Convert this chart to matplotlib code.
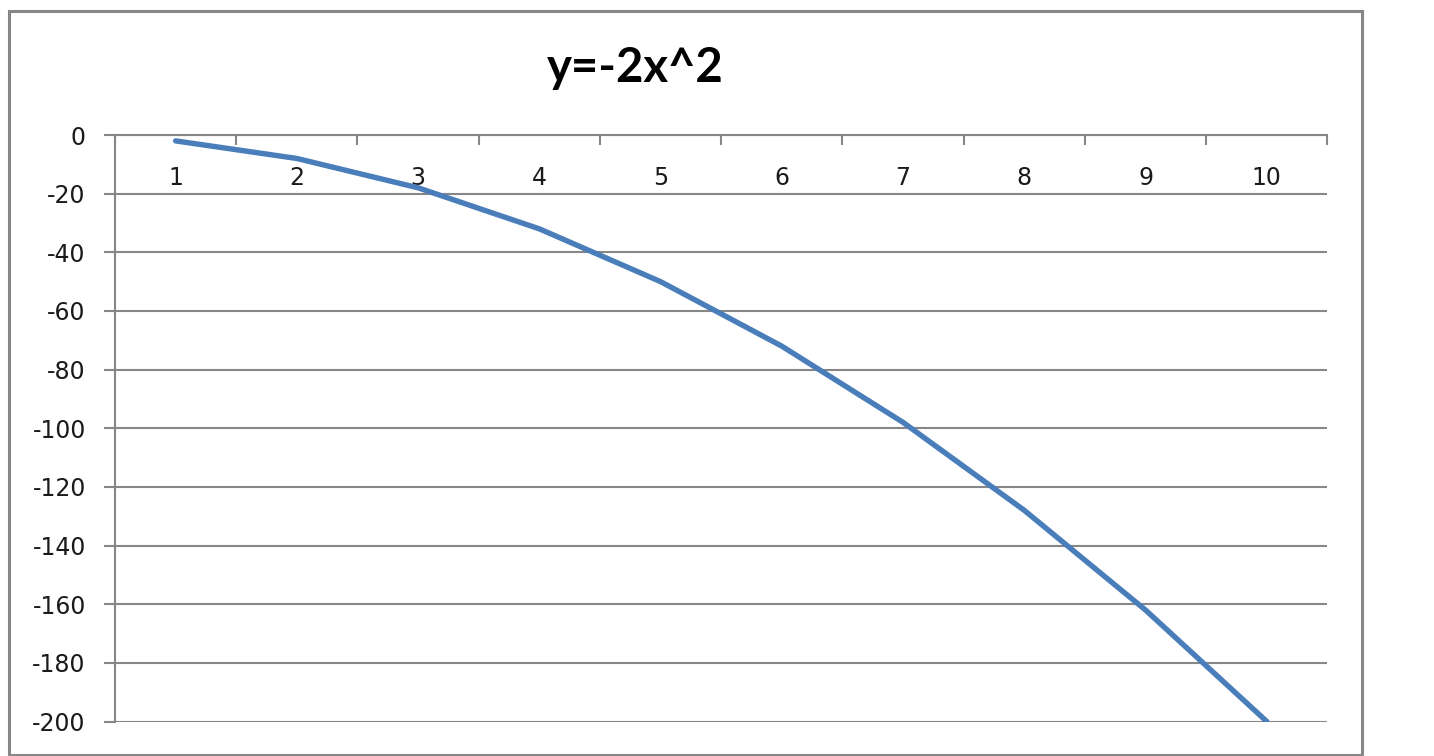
import numpy as np
import matplotlib
matplotlib.use("Agg")
import matplotlib.pyplot as plt
from matplotlib.patches import Rectangle

# chart data
x_labels = ["1", "2", "3", "4", "5", "6", "7", "8", "9", "10"]
y_values = [-2, -8, -18, -32, -50, -72, -98, -128, -162, -200]
y_ticks = [0, -20, -40, -60, -80, -100, -120, -140, -160, -180, -200]
title = "y=-2x^2"

GRID = "#878787"
LINE = "#4A7EBB"

fig = plt.figure(figsize=(14.34, 7.56), dpi=100)
ax = fig.add_axes([0.0802, 0.0456, 0.9257 - 0.0802, 0.8214 - 0.0456])

xs = np.arange(1, len(x_labels) + 1)
ax.plot(xs, y_values, color=LINE, linewidth=3.9, solid_capstyle="round", zorder=3)

ax.set_xlim(0.5, len(x_labels) + 0.5)
ax.set_ylim(-200, 0)

# horizontal gridlines
ax.set_yticks(y_ticks)
ax.set_yticklabels([str(v) for v in y_ticks])
ax.yaxis.grid(True, color=GRID, linewidth=1.5)
ax.set_axisbelow(True)

# category axis sits at y=0 (top), labels below it
ax.set_xticks(xs)
ax.set_xticklabels(x_labels)
ax.set_xticks(np.arange(0.5, len(x_labels) + 1, 1), minor=True)
ax.tick_params(axis="x", which="major", top=True, bottom=False, labeltop=True,
               labelbottom=False, length=0, pad=-39.6, labelsize=17, labelcolor="#1a1a1a")
ax.tick_params(axis="x", which="minor", top=True, bottom=False, direction="in",
               length=7.5, width=1.5, color=GRID)
ax.tick_params(axis="y", direction="out", length=8, width=1.5, color=GRID,
               pad=13, labelsize=17, labelcolor="#1a1a1a")

for side in ["right", "bottom"]:
    ax.spines[side].set_visible(False)
for side in ["left", "top"]:
    ax.spines[side].set_color(GRID)
    ax.spines[side].set_linewidth(1.5)

fig.text(0.443, 0.891, title, ha="center", va="baseline", fontsize=34,
         fontweight="bold", family=["Lato", "DejaVu Sans"], color="black")

# chart outer border
fig.patches.append(Rectangle((9 / 1434, 1 - 755 / 756), (1362 - 9) / 1434, (755 - 11) / 756,
                             transform=fig.transFigure, fill=False, edgecolor=GRID,
                             linewidth=2.2))

fig.savefig("out.png", dpi=100, facecolor="white")
